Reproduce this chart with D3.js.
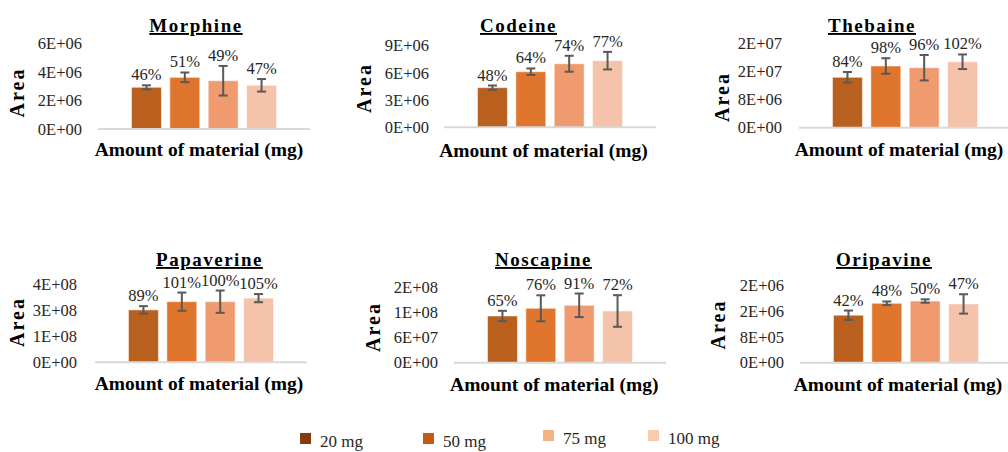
<!DOCTYPE html>
<html>
<head>
<meta charset="utf-8">
<script src="https://cdn.jsdelivr.net/npm/d3@7"></script>
<style>
  html, body { margin: 0; padding: 0; background: #fff; }
  svg { display: block; font-family: "Liberation Serif", "Times New Roman", serif; }
</style>
</head>
<body>
<svg id="chart" width="1008" height="452"></svg>
<script>
// ---- data -------------------------------------------------------------
const alkaloids = ["Morphine", "Codeine", "Thebaine", "Papaverine", "Noscapine", "Oripavine"];
const amounts = ["20 mg", "50 mg", "75 mg", "100 mg"];

// peak area (mean), standard deviation and recovery per amount of material
const morphineArea = [2.93e6, 3.63e6, 3.39e6, 3.07e6];
const morphineSd = [0.14e6, 0.34e6, 1.04e6, 0.44e6];
const morphineRecovery = [46, 51, 49, 47];

const codeineArea = [4.37e6, 6.13e6, 7.01e6, 7.35e6];
const codeineSd = [0.24e6, 0.36e6, 0.88e6, 0.97e6];
const codeineRecovery = [48, 64, 74, 77];

const thebaineArea = [1.437e7, 1.759e7, 1.71e7, 1.88e7];
const thebaineSd = [1.51e6, 2.22e6, 3.62e6, 2.08e6];
const thebaineRecovery = [84, 98, 96, 102];

const papaverineArea = [2.82e8, 3.26e8, 3.26e8, 3.45e8];
const papaverineSd = [0.2e8, 0.49e8, 0.6e8, 0.22e8];
const papaverineRecovery = [89, 101, 100, 105];

const noscapineArea = [1.118e8, 1.302e8, 1.374e8, 1.238e8];
const noscapineSd = [1.24e7, 3.11e7, 2.82e7, 3.78e7];
const noscapineRecovery = [65, 76, 91, 72];

const oripavineArea = [1.47e6, 1.84e6, 1.91e6, 1.82e6];
const oripavineSd = [0.146e6, 0.056e6, 0.053e6, 0.30e6];
const oripavineRecovery = [42, 48, 50, 47];

// y-axis tick values per panel
const morphineTicks = [0, 2e6, 4e6, 6e6];
const codeineTicks = [0, 3e6, 6e6, 9e6];
const thebaineTicks = [0, 8e6, 1.6e7, 2.4e7];
const papaverineTicks = [0, 1.4e8, 2.8e8, 4.2e8];
const noscapineTicks = [0, 6e7, 1.2e8, 1.8e8];
const oripavineTicks = [0, 8e5, 1.6e6, 2.4e6];

const xTitle = "Amount of material (mg)";
const yTitle = "Area";

// ---- layout & style ---------------------------------------------------
const barColors = ["#B9601F", "#E0752D", "#F09A6F", "#F5C2AA"];
const legendColors = ["#843C0C", "#C55A11", "#F4B183", "#F8CBAD"];

// placement of each small chart on the page
const layout = [
  { x0: 98,  yBase: 129,   yTop: 43.6,  tickRight: 82,  titleX: 196,   titleY: 32,  areaX: 17,    areaY: 92.5, axX: 199,   axY: 156 },
  { x0: 444, yBase: 127.3, yTop: 45.7,  tickRight: 429, titleX: 518.5, titleY: 32,  areaX: 364,   areaY: 88,   axX: 543.5, axY: 156.5 },
  { x0: 799, yBase: 127.7, yTop: 43.5,  tickRight: 782, titleX: 872,   titleY: 32,  areaX: 722,   areaY: 97,   axX: 899,   axY: 155.7 },
  { x0: 95,  yBase: 362.3, yTop: 284.2, tickRight: 77,  titleX: 209.5, titleY: 266, areaX: 17,    areaY: 322,  axX: 199,   axY: 390 },
  { x0: 454, yBase: 362.7, yTop: 287.5, tickRight: 438, titleX: 543.5, titleY: 266, areaX: 372.5, areaY: 327,  axX: 554.3, axY: 391 },
  { x0: 800, yBase: 362.7, yTop: 285.2, tickRight: 784, titleX: 884,   titleY: 266, areaX: 718,   areaY: 324.5,axX: 898,   axY: 390.7 }
];
const plotWidth = 212;
const legendPos = [{ x: 300, y: 433 }, { x: 423, y: 433 }, { x: 543, y: 430 }, { x: 648, y: 430 }];

const panels = [
  { name: alkaloids[0], area: morphineArea,   sd: morphineSd,   rec: morphineRecovery,   ticks: morphineTicks },
  { name: alkaloids[1], area: codeineArea,    sd: codeineSd,    rec: codeineRecovery,    ticks: codeineTicks },
  { name: alkaloids[2], area: thebaineArea,   sd: thebaineSd,   rec: thebaineRecovery,   ticks: thebaineTicks },
  { name: alkaloids[3], area: papaverineArea, sd: papaverineSd, rec: papaverineRecovery, ticks: papaverineTicks },
  { name: alkaloids[4], area: noscapineArea,  sd: noscapineSd,  rec: noscapineRecovery,  ticks: noscapineTicks },
  { name: alkaloids[5], area: oripavineArea,  sd: oripavineSd,  rec: oripavineRecovery,  ticks: oripavineTicks }
];

// scientific format "0E+00"
function sci(v) {
  const [m, e] = v.toExponential(0).split("e");
  const sign = e[0] === "-" ? "-" : "+";
  const exp = String(Math.abs(+e)).padStart(2, "0");
  return m + "E" + sign + exp;
}

const svg = d3.select("#chart");
svg.append("rect").attr("width", 1008).attr("height", 452).attr("fill", "#fff");

panels.forEach((p, i) => {
  const L = layout[i];
  const g = svg.append("g");

  const y = d3.scaleLinear()
    .domain([0, p.ticks[p.ticks.length - 1]])
    .range([L.yBase, L.yTop]);
  const x = d3.scaleBand()
    .domain(amounts)
    .range([L.x0 + 33.5, L.x0 + 178.5])
    .paddingInner(0.22);

  // y axis labels
  const axis = d3.axisLeft(y).tickValues(p.ticks).tickFormat(sci).tickSize(0).tickPadding(0);
  const ag = g.append("g").attr("transform", `translate(${L.tickRight},0)`).call(axis);
  ag.select(".domain").remove();
  ag.selectAll("text")
    .attr("font-family", "Liberation Serif, serif")
    .attr("font-size", 16.5)
    .attr("fill", "#262626");

  // bars
  const rows = amounts.map((a, k) => ({ a, v: p.area[k], e: p.sd[k], r: p.rec[k], k }));
  g.selectAll("rect.bar").data(rows).join("rect")
    .attr("class", "bar")
    .attr("x", d => x(d.a))
    .attr("y", d => y(d.v))
    .attr("width", x.bandwidth())
    .attr("height", d => y(0) - y(d.v))
    .attr("fill", d => barColors[d.k])
    .attr("stroke", "#fff")
    .attr("stroke-opacity", 0.5)
    .attr("stroke-width", 1);

  // baseline
  g.append("line")
    .attr("x1", L.x0).attr("x2", L.x0 + plotWidth)
    .attr("y1", y(0)).attr("y2", y(0))
    .attr("stroke", "#D9D9D9").attr("stroke-width", 2);

  // error bars
  const eb = g.selectAll("g.err").data(rows).join("g").attr("class", "err")
    .attr("stroke", "#595959").attr("stroke-width", 2);
  const cx = d => x(d.a) + x.bandwidth() / 2;
  eb.append("line").attr("x1", cx).attr("x2", cx)
    .attr("y1", d => y(d.v + d.e)).attr("y2", d => y(d.v - d.e));
  eb.append("line").attr("x1", d => cx(d) - 4.5).attr("x2", d => cx(d) + 4.5)
    .attr("y1", d => y(d.v + d.e)).attr("y2", d => y(d.v + d.e));
  eb.append("line").attr("x1", d => cx(d) - 4.5).attr("x2", d => cx(d) + 4.5)
    .attr("y1", d => y(d.v - d.e)).attr("y2", d => y(d.v - d.e));

  // recovery labels
  g.selectAll("text.lab").data(rows).join("text")
    .attr("class", "lab")
    .attr("x", cx)
    .attr("y", d => y(d.v + d.e) - 5)
    .attr("text-anchor", "middle")
    .attr("font-size", 16.5)
    .attr("fill", "#262626")
    .text(d => d.r + "%");

  // chart title
  g.append("text")
    .attr("x", L.titleX).attr("y", L.titleY)
    .attr("text-anchor", "middle")
    .attr("font-size", 19).attr("font-weight", "bold")
    .attr("letter-spacing", 1.5)
    .style("text-decoration", "underline")
    .attr("fill", "#000")
    .text(p.name);

  // axis titles
  g.append("text")
    .attr("x", L.axX).attr("y", L.axY)
    .attr("text-anchor", "middle")
    .attr("font-size", 19.5).attr("font-weight", "bold")
    .attr("fill", "#000")
    .text(xTitle);

  g.append("text")
    .attr("transform", `translate(${L.areaX + 7},${L.areaY}) rotate(-90)`)
    .attr("text-anchor", "middle")
    .attr("font-size", 20).attr("font-weight", "bold")
    .attr("letter-spacing", 2)
    .attr("fill", "#000")
    .text(yTitle);
});

// legend
const lg = svg.append("g").selectAll("g").data(amounts).join("g")
  .attr("transform", (d, k) => `translate(${legendPos[k].x},${legendPos[k].y})`);
lg.append("rect").attr("width", 11).attr("height", 11).attr("fill", (d, k) => legendColors[k]);
lg.append("text").attr("x", 20).attr("y", 14)
  .attr("font-size", 17).attr("fill", "#262626")
  .text(d => d);
</script>
</body>
</html>
